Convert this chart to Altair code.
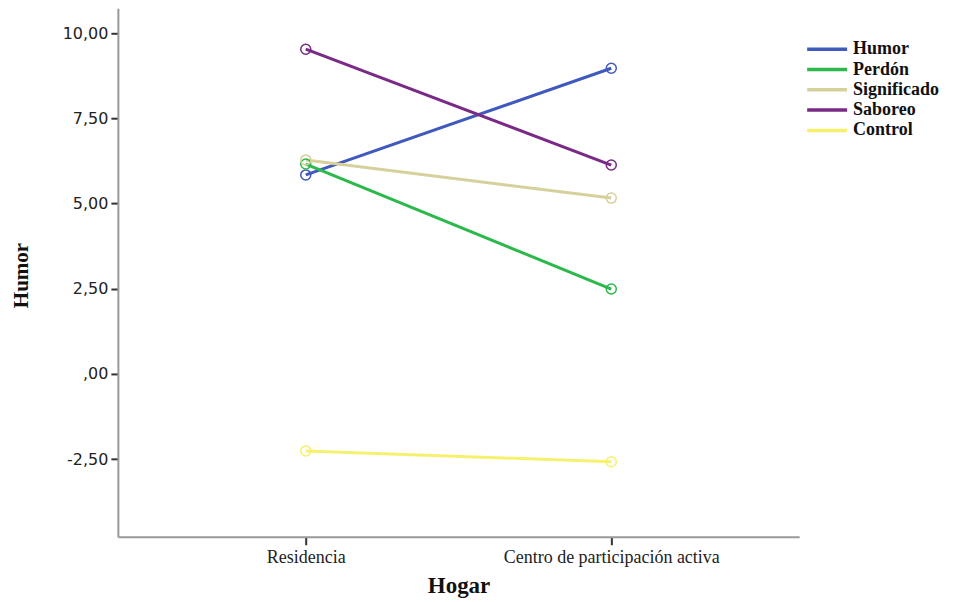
import altair as alt
import pandas as pd

hogar = ["Residencia", "Centro de participación activa"]
grupos = ["Humor", "Perdón", "Significado", "Saboreo", "Control"]
humor_vals = [5.84, 8.97]
perdon_vals = [6.16, 2.49]
significado_vals = [6.28, 5.16]
saboreo_vals = [9.53, 6.13]
control_vals = [-2.26, -2.58]
colores = ["#3f59bd", "#2cb84b", "#d6d19a", "#7a2a86", "#f6f16c"]
y_ticks = [-2.5, 0, 2.5, 5, 7.5, 10]

series = [humor_vals, perdon_vals, significado_vals, saboreo_vals, control_vals]
rows = []
for g, vals in zip(grupos, series):
    for h, v in zip(hogar, vals):
        rows.append({"Hogar": h, "Grupo": g, "Humor": v})
df = pd.DataFrame(rows)

x_enc = alt.X("Hogar:N", sort=hogar, scale=alt.Scale(type="point", padding=0.615),
              axis=alt.Axis(title="Hogar", labelAngle=0, labelFont="Liberation Serif",
                            labelFontSize=18, labelColor="#222", labelPadding=4,
                            labelLimit=0,
                            titleFont="Liberation Serif", titleFontSize=23,
                            titleFontWeight="bold", titleColor="#111", titlePadding=8,
                            tickSize=8, tickColor="#333", tickWidth=2,
                            domainColor="#999", domainWidth=2))
y_enc = alt.Y("Humor:Q", scale=alt.Scale(domain=[-4.78, 10.73], nice=False, zero=False),
              axis=alt.Axis(title="Humor", values=y_ticks,
                            labelExpr="datum.value == 0 ? ',00' : replace(replace(format(datum.value, '.2f'), '.', ','), '\u2212', '-')",
                            labelFont="DejaVu Sans", labelFontSize=16, labelColor="#222",
                            labelPadding=3, titleFont="Liberation Serif", titleFontSize=21,
                            titleFontWeight="bold", titleColor="#111",
                            titleX=-86, titleY=267,
                            tickSize=7, tickColor="#333", tickWidth=2,
                            domainColor="#999", domainWidth=2, grid=False))
color_enc = alt.Color("Grupo:N", sort=grupos,
                      scale=alt.Scale(domain=grupos, range=colores),
                      legend=alt.Legend(title=None, orient="none", legendX=688, legendY=32,
                                        symbolType="stroke", symbolSize=1600,
                                        symbolStrokeWidth=3.5, symbolOpacity=1,
                                        labelFont="Liberation Serif",
                                        labelFontSize=18, labelFontWeight="bold",
                                        labelColor="#111", rowPadding=2.3, labelOffset=4,
                                        clipHeight=18))

base = alt.Chart(df).encode(x=x_enc, y=y_enc, color=color_enc, detail="Grupo:N")
lines = base.mark_line(strokeWidth=3)
points = base.mark_point(shape="circle", filled=False, size=100, strokeWidth=1.5, opacity=1)

chart = alt.layer(lines, points).properties(
    width=682, height=529,
    background="white",
    autosize=alt.AutoSizeParams(type="none"),
    padding={"left": 110, "top": 0, "right": 160, "bottom": 72},
).configure_view(strokeWidth=0)

chart.save("out.html", embed_options={"renderer": "svg", "actions": False})
